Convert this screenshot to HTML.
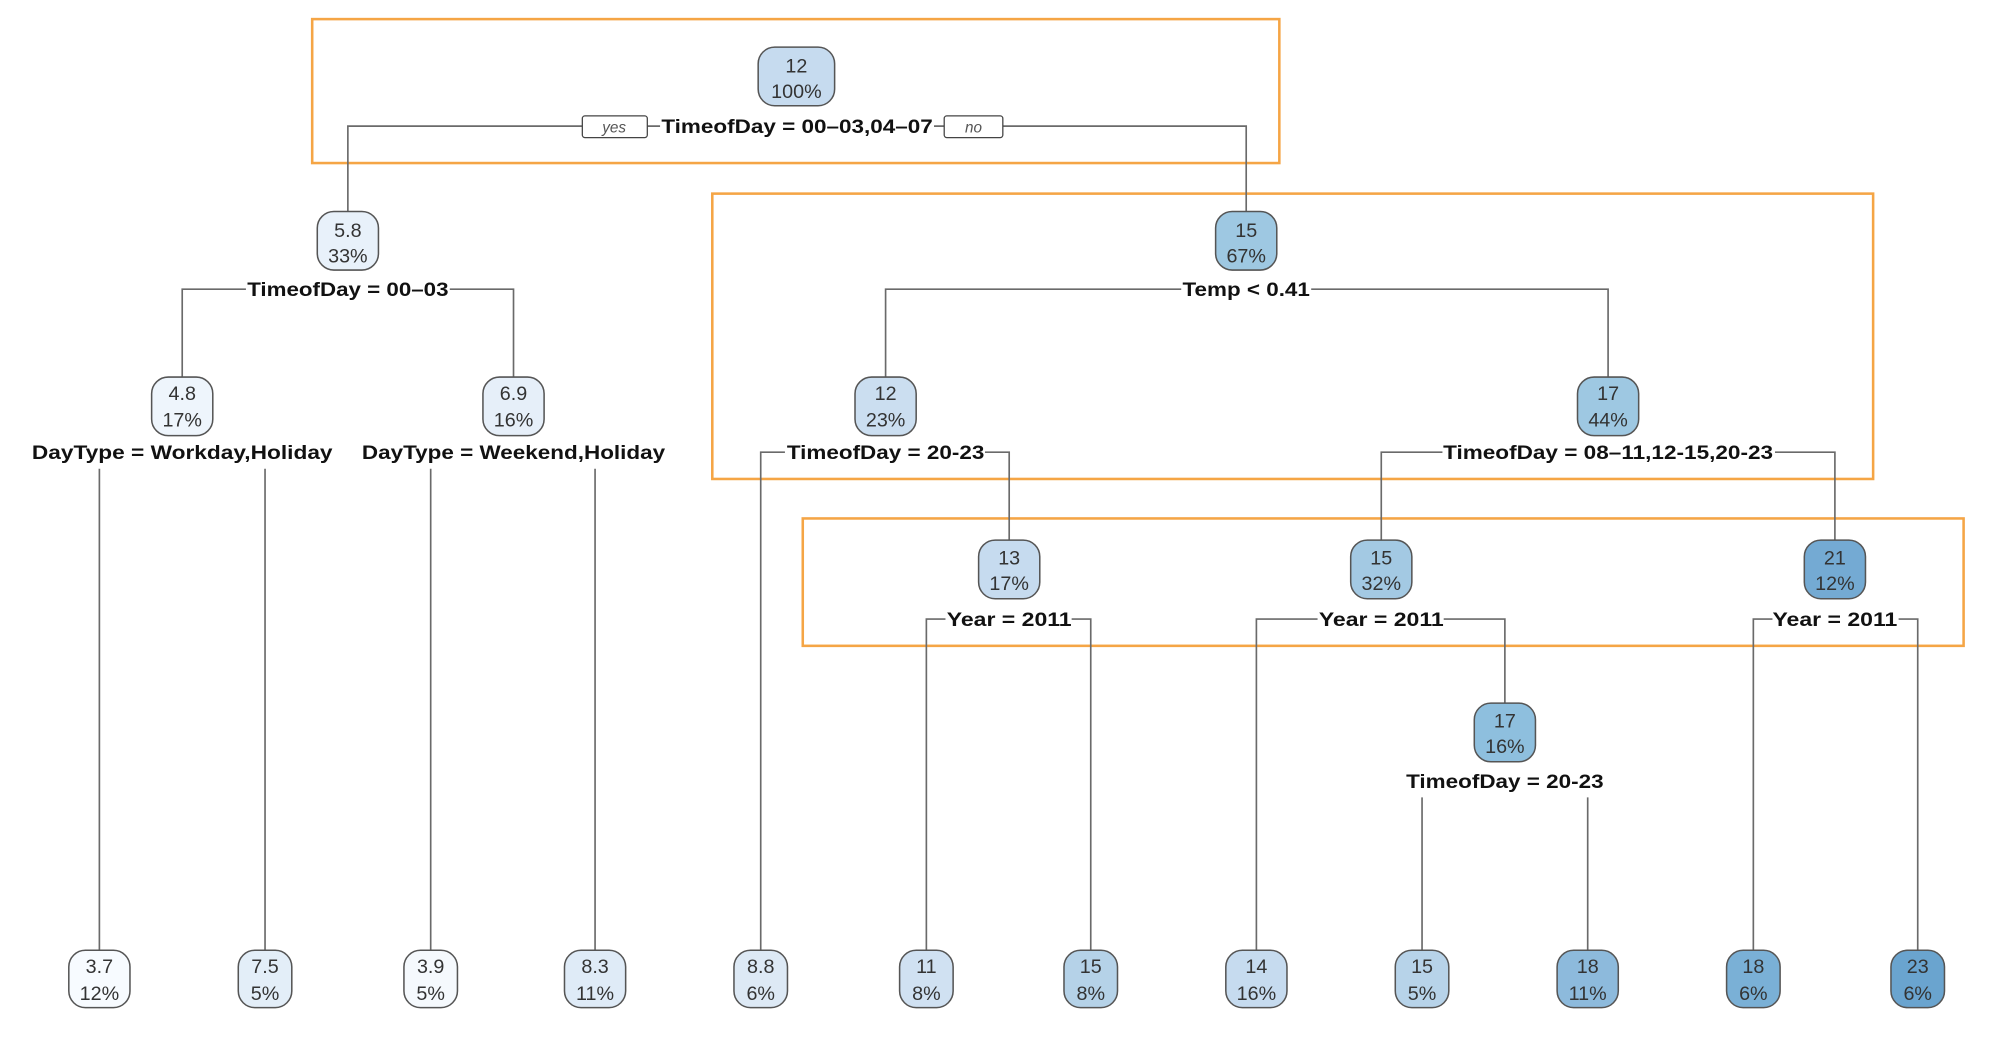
<!DOCTYPE html>
<html><head><meta charset="utf-8"><style>
html,body{margin:0;padding:0;background:#fff;}
svg{display:block;}
text{font-family:"Liberation Sans",sans-serif;}
.n{font-size:15.5px;fill:#333;text-anchor:middle;}
.l{font-size:15.5px;font-weight:bold;fill:#111;text-anchor:middle;}
.e{fill:none;stroke:#6a6a6a;stroke-width:1.3;}
.o{fill:none;stroke:#f5a545;stroke-width:2;}
.b{stroke:#555;stroke-width:1.2;}
</style></head><body>
<svg width="1998" height="1042" viewBox="0 0 1568 818" preserveAspectRatio="none" xmlns="http://www.w3.org/2000/svg">
<!-- orange boxes -->
<rect class="o" x="245" y="15" width="759" height="113"/>
<rect class="o" x="559" y="152" width="911" height="224"/>
<rect class="o" x="630" y="407" width="911" height="100"/>

<!-- edges -->
<path class="e" d="M273,166 V99 H457 M508,99 H518 M733,99 H741 M787,99 H978 V166"/>
<path class="e" d="M143,296 V227 H193 M353,227 H403 V296"/>
<path class="e" d="M695,296 V227 H927 M1029,227 H1262 V296"/>
<path class="e" d="M78,368 V746 M208,368 V746 M338,368 V746 M467,368 V746"/>
<path class="e" d="M597,746 V355 H616 M773,355 H792 V425"/>
<path class="e" d="M1084,425 V355 H1132 M1393,355 H1440 V425"/>
<path class="e" d="M727,746 V486 H742 M841,486 H856 V746"/>
<path class="e" d="M986,746 V486 H1034 M1133,486 H1181 V552"/>
<path class="e" d="M1376,746 V486 H1391 M1490,486 H1505 V746"/>
<path class="e" d="M1116,626 V746 M1246,626 V746"/>

<!-- yes/no -->
<rect x="457" y="91" width="51" height="17" fill="#fff" stroke="#444" stroke-width="1" rx="2"/>
<text x="482" y="104" font-size="12" font-style="italic" fill="#555" text-anchor="middle">yes</text>
<rect x="741" y="91" width="46" height="17" fill="#fff" stroke="#444" stroke-width="1" rx="2"/>
<text x="764" y="104" font-size="12" font-style="italic" fill="#555" text-anchor="middle">no</text>

<!-- split labels -->
<text class="l" x="625.5" y="104.5" textLength="213" lengthAdjust="spacingAndGlyphs">TimeofDay = 00–03,04–07</text>
<text class="l" x="273" y="232.5" textLength="158" lengthAdjust="spacingAndGlyphs">TimeofDay = 00–03</text>
<text class="l" x="978" y="232.5" textLength="100" lengthAdjust="spacingAndGlyphs">Temp &lt; 0.41</text>
<text class="l" x="143" y="360.5" textLength="236" lengthAdjust="spacingAndGlyphs">DayType = Workday,Holiday</text>
<text class="l" x="403" y="360.5" textLength="238" lengthAdjust="spacingAndGlyphs">DayType = Weekend,Holiday</text>
<text class="l" x="695" y="360.5" textLength="155" lengthAdjust="spacingAndGlyphs">TimeofDay = 20-23</text>
<text class="l" x="1262" y="360.5" textLength="259" lengthAdjust="spacingAndGlyphs">TimeofDay = 08–11,12-15,20-23</text>
<text class="l" x="792" y="491.5" textLength="98" lengthAdjust="spacingAndGlyphs">Year = 2011</text>
<text class="l" x="1084" y="491.5" textLength="98" lengthAdjust="spacingAndGlyphs">Year = 2011</text>
<text class="l" x="1440" y="491.5" textLength="98" lengthAdjust="spacingAndGlyphs">Year = 2011</text>
<text class="l" x="1181" y="618.5" textLength="155" lengthAdjust="spacingAndGlyphs">TimeofDay = 20-23</text>

<!-- nodes -->
<g>
<rect class="b" x="595" y="37" width="60" height="46" rx="13" fill="#c6dbef"/>
<text class="n" x="625" y="57">12</text><text class="n" x="625" y="77">100%</text>

<rect class="b" x="249" y="166" width="48" height="46" rx="13" fill="#e8f1fa"/>
<text class="n" x="273" y="186">5.8</text><text class="n" x="273" y="206">33%</text>
<rect class="b" x="954" y="166" width="48" height="46" rx="13" fill="#9ec8e2"/>
<text class="n" x="978" y="186">15</text><text class="n" x="978" y="206">67%</text>

<rect class="b" x="119" y="296" width="48" height="46" rx="13" fill="#eef5fc"/>
<text class="n" x="143" y="314">4.8</text><text class="n" x="143" y="335">17%</text>
<rect class="b" x="379" y="296" width="48" height="46" rx="13" fill="#e6eff9"/>
<text class="n" x="403" y="314">6.9</text><text class="n" x="403" y="335">16%</text>
<rect class="b" x="671" y="296" width="48" height="46" rx="13" fill="#cbdef0"/>
<text class="n" x="695" y="314">12</text><text class="n" x="695" y="335">23%</text>
<rect class="b" x="1238" y="296" width="48" height="46" rx="13" fill="#9ec8e2"/>
<text class="n" x="1262" y="314">17</text><text class="n" x="1262" y="335">44%</text>

<rect class="b" x="768" y="424" width="48" height="46" rx="13" fill="#c6dbef"/>
<text class="n" x="792" y="443">13</text><text class="n" x="792" y="463">17%</text>
<rect class="b" x="1060" y="424" width="48" height="46" rx="13" fill="#a3c9e3"/>
<text class="n" x="1084" y="443">15</text><text class="n" x="1084" y="463">32%</text>
<rect class="b" x="1416" y="424" width="48" height="46" rx="13" fill="#74aad3"/>
<text class="n" x="1440" y="443">21</text><text class="n" x="1440" y="463">12%</text>

<rect class="b" x="1157" y="552" width="48" height="46" rx="13" fill="#8ebfde"/>
<text class="n" x="1181" y="571">17</text><text class="n" x="1181" y="591">16%</text>
</g>

<!-- leaves -->
<g>
<rect class="b" x="54" y="746" width="48" height="45" rx="13" fill="#f7fbff"/>
<text class="n" x="78" y="764">3.7</text><text class="n" x="78" y="785">12%</text>
<rect class="b" x="187" y="746" width="42" height="45" rx="13" fill="#e3eef8"/>
<text class="n" x="208" y="764">7.5</text><text class="n" x="208" y="785">5%</text>
<rect class="b" x="317" y="746" width="42" height="45" rx="13" fill="#f5f9fd"/>
<text class="n" x="338" y="764">3.9</text><text class="n" x="338" y="785">5%</text>
<rect class="b" x="443" y="746" width="48" height="45" rx="13" fill="#dfebf7"/>
<text class="n" x="467" y="764">8.3</text><text class="n" x="467" y="785">11%</text>
<rect class="b" x="576" y="746" width="42" height="45" rx="13" fill="#dde9f5"/>
<text class="n" x="597" y="764">8.8</text><text class="n" x="597" y="785">6%</text>
<rect class="b" x="706" y="746" width="42" height="45" rx="13" fill="#d0e1f2"/>
<text class="n" x="727" y="764">11</text><text class="n" x="727" y="785">8%</text>
<rect class="b" x="835" y="746" width="42" height="45" rx="13" fill="#b5d2e8"/>
<text class="n" x="856" y="764">15</text><text class="n" x="856" y="785">8%</text>
<rect class="b" x="962" y="746" width="48" height="45" rx="13" fill="#c6dbef"/>
<text class="n" x="986" y="764">14</text><text class="n" x="986" y="785">16%</text>
<rect class="b" x="1095" y="746" width="42" height="45" rx="13" fill="#b7d3e9"/>
<text class="n" x="1116" y="764">15</text><text class="n" x="1116" y="785">5%</text>
<rect class="b" x="1222" y="746" width="48" height="45" rx="13" fill="#8dbadc"/>
<text class="n" x="1246" y="764">18</text><text class="n" x="1246" y="785">11%</text>
<rect class="b" x="1355" y="746" width="42" height="45" rx="13" fill="#7ab0d6"/>
<text class="n" x="1376" y="764">18</text><text class="n" x="1376" y="785">6%</text>
<rect class="b" x="1484" y="746" width="42" height="45" rx="13" fill="#6aa4cf"/>
<text class="n" x="1505" y="764">23</text><text class="n" x="1505" y="785">6%</text>
</g>
</svg>
</body></html>
